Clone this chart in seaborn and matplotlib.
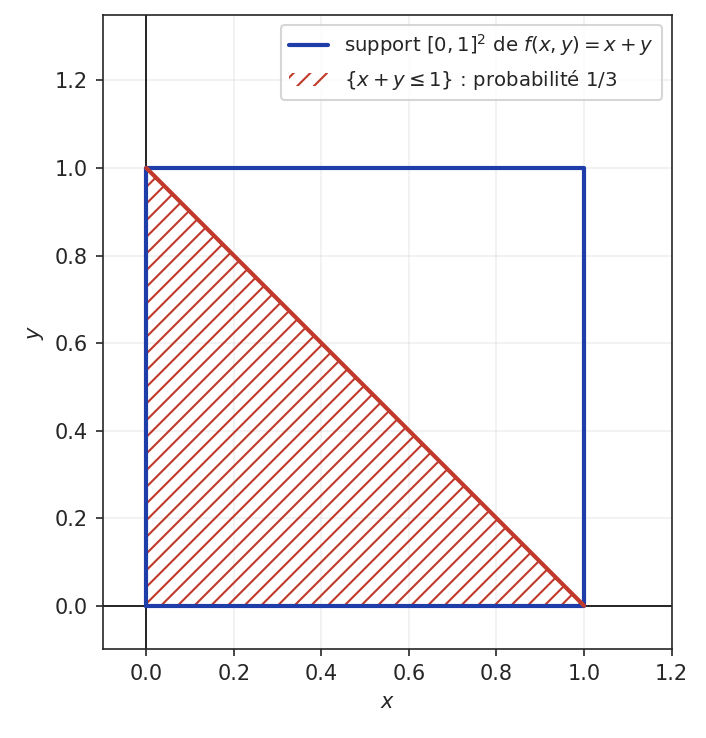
import pandas as pd
import matplotlib
matplotlib.use("Agg")
import matplotlib.pyplot as plt
import seaborn as sns

# support square and event triangle
square_x = [0, 1, 1, 0, 0]
square_y = [0, 0, 1, 1, 0]
tri_x = [0, 1, 0]
tri_y = [0, 0, 1]
hyp_x = [0, 1]
hyp_y = [1, 0]

blue = "#1f3da8"
red = "#c0392b"

sns.set_style("ticks")
plt.rcParams["font.family"] = ["DejaVu Sans"]

fig, ax = plt.subplots(figsize=(4.713, 4.92), dpi=150)

sq = pd.DataFrame({"x": square_x, "y": square_y})
sns.lineplot(data=sq, x="x", y="y", sort=False, estimator=None, color=blue,
             lw=2, ax=ax, label=r"support $[0,1]^2$ de $f(x,y)=x+y$", zorder=3)

ax.fill(tri_x, tri_y, facecolor="none", edgecolor=red, hatch="///", lw=0,
        label=r"$\{x+y\leq 1\}$ : probabilité 1/3", zorder=2)
sns.lineplot(x=hyp_x, y=hyp_y, color=red, lw=2, ax=ax, zorder=4)

ax.axhline(0, color="black", lw=0.8, zorder=1)
ax.axvline(0, color="black", lw=0.8, zorder=1)

ax.set_xlim(-0.1, 1.2)
ax.set_ylim(-0.1, 1.35)
ax.set_aspect("equal")
ax.set_xticks([0, 0.2, 0.4, 0.6, 0.8, 1.0, 1.2])
ax.set_yticks([0, 0.2, 0.4, 0.6, 0.8, 1.0, 1.2])
ax.grid(True, alpha=0.3)
ax.set_xlabel("$x$")
ax.set_ylabel("$y$")
for s in ax.spines.values():
    s.set_visible(True)
    s.set_linewidth(0.8)
plt.rcParams["hatch.color"] = red
ax.legend(loc="upper right", fontsize=9.5)

fig.subplots_adjust(left=0.145, right=0.95, top=0.98, bottom=0.12)
fig.savefig("out.png", dpi=150)
